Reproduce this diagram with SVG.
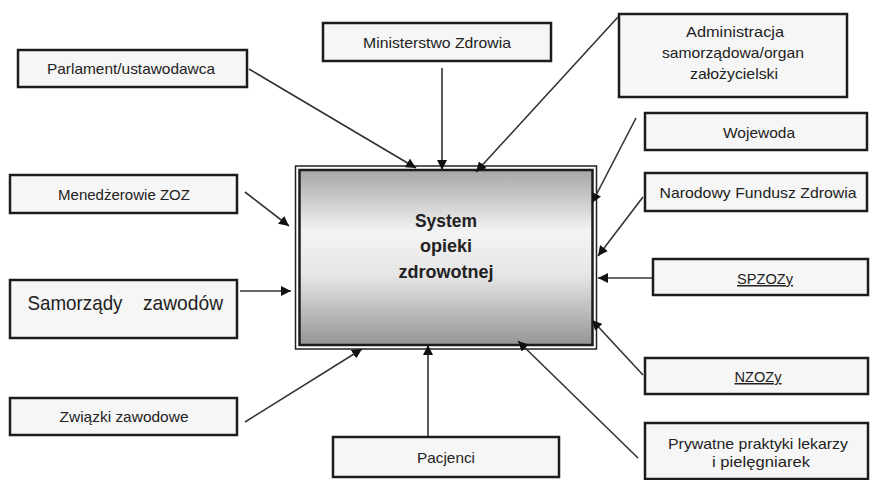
<svg xmlns="http://www.w3.org/2000/svg" width="870" height="480" viewBox="0 0 870 480">
<defs>
<linearGradient id="g" x1="0" y1="0" x2="0" y2="1">
<stop offset="0" stop-color="#a6a6a6"/>
<stop offset="0.35" stop-color="#f3f3f3"/>
<stop offset="0.6" stop-color="#e6e6e6"/>
<stop offset="1" stop-color="#959595"/>
</linearGradient>
<marker id="ah" viewBox="0 0 10 10" refX="10" refY="5" markerWidth="10" markerHeight="10" markerUnits="userSpaceOnUse" orient="auto">
<path d="M0,0 L10,5 L0,10 z" fill="#111"/>
</marker>
</defs>
<style>
.box{fill:#f6f6f6;stroke:#1c1c1c;stroke-width:2.5}
.t{font-family:"Liberation Sans",Arial,sans-serif;font-size:15px;fill:#222;text-anchor:middle}
.c{stroke:#333;stroke-width:1.6;fill:none;marker-end:url(#ah)}
.m{font-family:"Liberation Sans",Arial,sans-serif;font-size:19px;font-weight:bold;fill:#222;text-anchor:middle}
</style>
<rect width="870" height="480" fill="#fff"/>
<g id="system">
<rect x="295.5" y="166" width="301" height="183" fill="#fff" stroke="#222" stroke-width="1.5"/>
<rect x="299.5" y="170" width="293" height="175" fill="url(#g)" stroke="#1c1c1c" stroke-width="2.5"/>
<text class="m" x="446" y="227" textLength="62" lengthAdjust="spacingAndGlyphs">System</text>
<text class="m" x="446" y="252" textLength="52" lengthAdjust="spacingAndGlyphs">opieki</text>
<text class="m" x="446" y="278" textLength="95" lengthAdjust="spacingAndGlyphs">zdrowotnej</text>
</g>
<g id="connectors">
<line class="c" x1="249" y1="69" x2="416" y2="168"/>
<line class="c" x1="442" y1="68" x2="442" y2="170"/>
<line class="c" x1="618" y1="17" x2="476" y2="172"/>
<line class="c" x1="636" y1="118" x2="592" y2="203"/>
<line class="c" x1="643" y1="197" x2="598" y2="256"/>
<line class="c" x1="653" y1="278" x2="598" y2="278"/>
<line class="c" x1="643" y1="375" x2="592" y2="320"/>
<line class="c" x1="638" y1="458" x2="518" y2="341"/>
<line class="c" x1="428" y1="437" x2="428" y2="345"/>
<line class="c" x1="245" y1="422" x2="362" y2="349"/>
<line class="c" x1="240" y1="291" x2="291" y2="291"/>
<line class="c" x1="245" y1="192" x2="289" y2="226"/>
</g>
<g id="parlament">
<rect class="box" x="18" y="50" width="229" height="37"/>
<text class="t" x="131" y="74" textLength="168" lengthAdjust="spacingAndGlyphs">Parlament/ustawodawca</text>
</g>
<g id="ministerstwo">
<rect class="box" x="323" y="23" width="228" height="38"/>
<text class="t" x="437" y="48" textLength="148" lengthAdjust="spacingAndGlyphs">Ministerstwo Zdrowia</text>
</g>
<g id="administracja">
<rect class="box" x="619" y="14" width="228" height="83"/>
<text class="t" x="735" y="37" textLength="98" lengthAdjust="spacingAndGlyphs">Administracja</text>
<text class="t" x="733" y="58" textLength="142" lengthAdjust="spacingAndGlyphs">samorządowa/organ</text>
<text class="t" x="734" y="79" textLength="88" lengthAdjust="spacingAndGlyphs">założycielski</text>
</g>
<g id="wojewoda">
<rect class="box" x="645" y="113" width="222" height="37"/>
<text class="t" x="759" y="138" textLength="72" lengthAdjust="spacingAndGlyphs">Wojewoda</text>
</g>
<g id="nfz">
<rect class="box" x="645" y="173" width="222" height="38"/>
<text class="t" x="758" y="198" textLength="197" lengthAdjust="spacingAndGlyphs">Narodowy Fundusz Zdrowia</text>
</g>
<g id="menedzerowie">
<rect class="box" x="10" y="175" width="227" height="38"/>
<text class="t" x="124" y="200" textLength="132" lengthAdjust="spacingAndGlyphs">Menedżerowie ZOZ</text>
</g>
<g id="samorzady">
<rect class="box" x="10" y="280" width="227" height="58"/>
<text class="t" x="75" y="310" style="font-size:21px" textLength="95" lengthAdjust="spacingAndGlyphs">Samorządy</text>
<text class="t" x="183" y="310" style="font-size:21px" textLength="80" lengthAdjust="spacingAndGlyphs">zawodów</text>
</g>
<g id="spzozy">
<rect class="box" x="653" y="259" width="215" height="36"/>
<text class="t" x="765" y="284" textLength="56" lengthAdjust="spacingAndGlyphs" text-decoration="underline">SPZOZy</text>
</g>
<g id="nzozy">
<rect class="box" x="645" y="358" width="223" height="36"/>
<text class="t" x="758" y="382" textLength="47" lengthAdjust="spacingAndGlyphs" text-decoration="underline">NZOZy</text>
</g>
<g id="prywatne">
<rect class="box" x="645" y="423" width="223" height="56"/>
<text class="t" x="758" y="449" textLength="180" lengthAdjust="spacingAndGlyphs">Prywatne praktyki lekarzy</text>
<text class="t" x="761" y="467" textLength="98" lengthAdjust="spacingAndGlyphs">i pielęgniarek</text>
</g>
<g id="zwiazki">
<rect class="box" x="10" y="398" width="227" height="37"/>
<text class="t" x="124" y="422" textLength="129" lengthAdjust="spacingAndGlyphs">Związki zawodowe</text>
</g>
<g id="pacjenci">
<rect class="box" x="333" y="437" width="226" height="40"/>
<text class="t" x="446" y="463" textLength="58" lengthAdjust="spacingAndGlyphs">Pacjenci</text>
</g>
</svg>
